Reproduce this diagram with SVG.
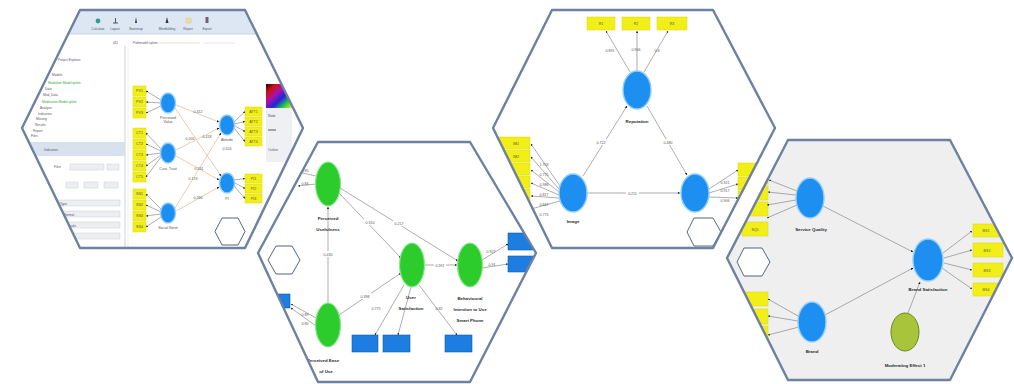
<svg xmlns="http://www.w3.org/2000/svg" width="1014" height="384" viewBox="0 0 1014 384">
<style>
.hexb{fill:none;stroke:#6e81a1;stroke-width:2.4;stroke-linejoin:round}
.small{fill:#fff;stroke:#55657f;stroke-width:1}
.ui{font-family:"Liberation Sans",Arial,sans-serif;font-size:3.2px;fill:#556}
.uig{font-family:"Liberation Sans",Arial,sans-serif;font-size:3.2px;fill:#2fa82f}
.lbl{font-family:"Liberation Sans",Arial,sans-serif;font-size:3.6px;fill:#555;text-anchor:middle}
.name{font-family:"Liberation Sans",Arial,sans-serif;font-size:4.4px;fill:#2a2a2a;text-anchor:middle;font-weight:bold}
.yb{fill:#f2ee18;stroke:#e0d800;stroke-width:0.5}
.bb{fill:#1d7de0;stroke:#0f5cb0;stroke-width:0.6}
.lv{fill:#1d8ff0;stroke:#8fcdfd;stroke-width:1.4}
.gv{fill:#2dcc2d;stroke:#8fe68f;stroke-width:1.2}
.path{stroke:#8a8a8a;stroke-width:0.7;fill:none}
.tan{stroke:#e6b48c;stroke-width:0.7;fill:none}
.ind{stroke:#777;stroke-width:0.6;fill:none}
.fld{fill:#eceef1;stroke:#c9ced6;stroke-width:0.5}
</style>
<defs>
<marker id="ah" viewBox="0 0 6 6" refX="5.5" refY="3" markerWidth="3.5" markerHeight="3.5" orient="auto">
<path d="M0,0 L6,3 L0,6 z" fill="#222"/>
</marker>
<linearGradient id="pal" x1="0" y1="0" x2="1" y2="1">
<stop offset="0" stop-color="#200"/><stop offset="0.2" stop-color="#c11"/><stop offset="0.4" stop-color="#a1a"/>
<stop offset="0.6" stop-color="#22d"/><stop offset="0.8" stop-color="#2c4"/><stop offset="1" stop-color="#ee2"/>
</linearGradient>
<clipPath id="c1"><polygon points="80,10 245,10 303,128 245,248 80,248 22,128"/></clipPath>
<clipPath id="c2"><polygon points="318,142 470,142 536,253 470,382 318,382 258,253"/></clipPath>
<clipPath id="c3"><polygon points="552,10 713,10 775,128 713,248 552,248 493,128"/></clipPath>
<clipPath id="c4"><polygon points="788,140 950,140 1012,258 950,380 788,380 727,258"/></clipPath>
</defs>
<rect width="1014" height="384" fill="#fff"/>

<!-- Panel 1: modelling software window -->
<g id="panel1">
<g clip-path="url(#c1)">
<rect x="20" y="8" width="290" height="244" fill="#fff"/>
<rect x="20" y="8" width="290" height="26" fill="#dde7f3"/>
<line x1="20" y1="34" x2="310" y2="34" stroke="#c2cedd" stroke-width="0.8"/>
<circle cx="98" cy="21" r="2.4" fill="#2e9e8e"/>
<path d="M113,23 h5 M115.5,18 v5" stroke="#445" stroke-width="0.9"/>
<path d="M136,17 l1,6 h-2 z" fill="#334"/>
<path d="M167,17 l1.5,6 h-3 z" fill="#334"/>
<rect x="186" y="18" width="5" height="5" fill="#f1dca0" stroke="#d9bd70" stroke-width="0.4"/>
<rect x="205.5" y="17" width="3" height="6" fill="#667"/>
<text class="ui" x="98" y="30" text-anchor="middle" font-size="2.4">Calculate</text>
<text class="ui" x="115" y="30" text-anchor="middle" font-size="2.4">Layout</text>
<text class="ui" x="136" y="30" text-anchor="middle" font-size="2.4">Bootstrap</text>
<text class="ui" x="167" y="30" text-anchor="middle" font-size="2.4">Blindfolding</text>
<text class="ui" x="188" y="30" text-anchor="middle" font-size="2.4">Report</text>
<text class="ui" x="207" y="30" text-anchor="middle" font-size="2.4">Export</text>
<text class="ui" x="113" y="44" font-size="3.6">411</text>
<text class="ui" x="133" y="44" font-size="2.8">Pathmodel.splsm</text>
<line x1="158" y1="43" x2="200" y2="43" stroke="#dfe9c8" stroke-width="1"/>
<line x1="203" y1="43" x2="235" y2="43" stroke="#e3e6ea" stroke-width="1"/>
<line x1="125" y1="46" x2="125" y2="250" stroke="#bfc7d3" stroke-width="0.8"/>
<line x1="128" y1="46" x2="128" y2="250" stroke="#e4e8ee" stroke-width="0.6"/>
<text class="ui" x="58" y="61" font-size="3.4">Project Explorer</text>
<text class="ui" x="52" y="76">Models</text>
<text class="uig" x="48" y="84">Mediation Model.splsm</text>
<text class="ui" x="45" y="90">Data</text>
<text class="ui" x="43" y="96">Mod_Data</text>
<text class="uig" x="42" y="103">Moderation Model.splsm</text>
<text class="ui" x="40" y="109">Analysis</text>
<text class="ui" x="38" y="115">Indicators</text>
<text class="ui" x="36" y="120">Missing</text>
<text class="ui" x="35" y="126">Results</text>
<text class="ui" x="33" y="132">Report</text>
<text class="ui" x="31" y="137">Files</text>
<rect x="30" y="142" width="95" height="14" fill="#d8e1ee"/>
<text class="ui" x="44" y="150.5">Indicators</text>
<text class="ui" x="54" y="168">Filter</text>
<rect x="70" y="164" width="34" height="6" class="fld"/>
<rect x="107" y="164" width="12" height="6" class="fld"/>
<rect x="66" y="182" width="12" height="6" class="fld"/>
<rect x="84" y="182" width="14" height="6" class="fld"/>
<rect x="104" y="182" width="14" height="6" class="fld"/>
<rect x="58" y="200" width="62" height="6" class="fld"/>
<text class="ui" x="60" y="204.5">Type</text>
<rect x="62" y="211" width="58" height="6" class="fld"/>
<text class="ui" x="64" y="215.5">Format</text>
<rect x="66" y="222" width="54" height="6" class="fld"/>
<text class="ui" x="68" y="226.5">Scale</text>
<rect x="70" y="233" width="50" height="6" class="fld"/>
<rect x="266" y="84" width="26" height="24" fill="url(#pal)"/>
<rect x="266" y="108" width="26" height="54" fill="#eef0f3"/>
<text class="ui" x="268" y="117">Node</text>
<line x1="268" y1="130" x2="276" y2="130" stroke="#333" stroke-width="0.8"/>
<text class="ui" x="268" y="151">Outline</text>

<!-- path model on the canvas -->
<g>
<rect class="yb" x="133" y="86" width="13" height="10"/><rect class="yb" x="133" y="97" width="13" height="10"/><rect class="yb" x="133" y="108" width="13" height="10"/>
<rect class="yb" x="133" y="128" width="13" height="10"/><rect class="yb" x="133" y="139" width="13" height="10"/><rect class="yb" x="133" y="150" width="13" height="10"/><rect class="yb" x="133" y="161" width="13" height="10"/><rect class="yb" x="133" y="172" width="13" height="10"/>
<rect class="yb" x="133" y="189" width="13" height="10"/><rect class="yb" x="133" y="200" width="13" height="10"/><rect class="yb" x="133" y="211" width="13" height="10"/><rect class="yb" x="133" y="222" width="13" height="10"/>
<rect class="yb" x="245" y="107" width="17" height="9"/><rect class="yb" x="245" y="117" width="17" height="9"/><rect class="yb" x="245" y="127" width="17" height="9"/><rect class="yb" x="245" y="137" width="17" height="9"/>
<rect class="yb" x="245" y="174" width="17" height="9"/><rect class="yb" x="245" y="184" width="17" height="9"/><rect class="yb" x="245" y="194" width="17" height="9"/>
<g class="lbl" font-size="2.6px" fill="#333">
<text x="139.5" y="92">PV1</text><text x="139.5" y="103">PV2</text><text x="139.5" y="114">PV3</text>
<text x="139.5" y="134">CT1</text><text x="139.5" y="145">CT2</text><text x="139.5" y="156">CT3</text><text x="139.5" y="167">CT4</text><text x="139.5" y="178">CT5</text>
<text x="139.5" y="195">SN1</text><text x="139.5" y="206">SN2</text><text x="139.5" y="217">SN3</text><text x="139.5" y="228">SN4</text>
<text x="253.5" y="112.5">ATT1</text><text x="253.5" y="122.5">ATT2</text><text x="253.5" y="132.5">ATT3</text><text x="253.5" y="142.5">ATT4</text>
<text x="253.5" y="179.5">PI1</text><text x="253.5" y="189.5">PI2</text><text x="253.5" y="199.5">PI3</text>
</g>
<g class="ind" marker-end="url(#ah)">
<path d="M161,100 L146,91"/><path d="M161,103 L146,102"/><path d="M161,106 L146,113"/>
<path d="M161,149 L146,133"/><path d="M161,151 L146,144"/><path d="M161,153 L146,155"/><path d="M161,155 L146,166"/><path d="M161,157 L146,177"/>
<path d="M161,209 L146,194"/><path d="M161,212 L146,205"/><path d="M161,214 L146,216"/><path d="M161,217 L146,227"/>
<path d="M234,122 L245,111.5"/><path d="M234,124 L245,121.5"/><path d="M235,126 L245,131.5"/><path d="M234,128 L245,141.5"/>
<path d="M234,180 L245,178.5"/><path d="M235,183 L245,188.5"/><path d="M234,186 L245,198.5"/>
</g>
<g class="tan" marker-end="url(#ah)">
<path d="M176,105 L219,122"/><path d="M175,108 L221,176"/><path d="M176,150 L219,128"/><path d="M176,156 L219,180"/><path d="M175,208 L221,133"/><path d="M176,211 L219,187"/>
</g>
<g class="lbl" font-size="2.6px">
<text x="198" y="113">0.312</text><text x="190" y="140">0.205</text><text x="207" y="138">0.418</text><text x="199" y="170">0.241</text><text x="193" y="180">0.174</text><text x="198" y="199">0.266</text>
</g>
<ellipse class="lv" cx="168" cy="103" rx="7.5" ry="10"/>
<ellipse class="lv" cx="168" cy="153" rx="7.5" ry="10"/>
<ellipse class="lv" cx="168" cy="213" rx="7.5" ry="10"/>
<ellipse class="lv" cx="227" cy="125" rx="7.5" ry="10"/>
<ellipse class="lv" cx="227" cy="183" rx="7.5" ry="10"/>
<g class="lbl" font-size="2.6px">
<text x="168" y="119">Perceived</text><text x="168" y="122.5">Value</text>
<text x="168" y="170">Cust. Trust</text>
<text x="168" y="229">Social Norm</text>
<text x="227" y="141">Attitude</text><text x="227" y="150">0.524</text>
<text x="227" y="200">PI</text>
</g>
</g>
<polygon class="small" points="222,218 238,218 245,231.5 238,245 222,245 215,231.5"/>
</g>
<polygon class="hexb" points="80,10 245,10 303,128 245,248 80,248 22,128"/>
</g>

<!-- Panel 3: reputation model -->
<g id="panel3">
<g clip-path="url(#c3)">
<polygon points="552,10 713,10 775,128 713,248 552,248 493,128" fill="#fff"/>
<rect class="yb" x="587" y="17" width="28" height="13"/><rect class="yb" x="622" y="17" width="28" height="13"/><rect class="yb" x="657" y="17" width="30" height="13"/>
<g class="lbl" fill="#333"><text x="601" y="25">R1</text><text x="636" y="25">R2</text><text x="672" y="25">R3</text></g>
<rect class="yb" x="498" y="137" width="32" height="12"/><rect class="yb" x="498" y="150" width="32" height="12"/><rect class="yb" x="498" y="163" width="32" height="12"/>
<rect class="yb" x="498" y="176" width="32" height="12"/><rect class="yb" x="498" y="189" width="32" height="12"/><rect class="yb" x="498" y="202" width="32" height="12"/>
<g class="lbl" fill="#333"><text x="516" y="144.5">IM1</text><text x="516" y="157.5">IM2</text></g>
<rect class="yb" x="738" y="163" width="30" height="13"/><rect class="yb" x="738" y="177" width="30" height="13"/><rect class="yb" x="738" y="191" width="30" height="13"/>
<g class="ind" marker-end="url(#ah)">
<path d="M630,72 L606,31"/><path d="M637,71 L637,31"/><path d="M644,72 L668,31"/>
<path d="M560,186 L531,144"/><path d="M559,189 L531,157"/><path d="M559,192 L531,170"/><path d="M559,195 L531,183"/><path d="M559,198 L531,196"/><path d="M560,201 L531,209"/>
<path d="M709,189 L738,170"/><path d="M709,193 L738,184"/><path d="M709,197 L738,198"/>
</g>
<g class="path" marker-end="url(#ah)">
<path d="M583,176 L627,106"/><path d="M647,106 L687,175"/><path d="M587,193 L680,193"/>
</g>
<g class="lbl">
<text x="610" y="52">0.891</text><text x="636" y="51">0.906</text><text x="657" y="52">0.8</text>
<text x="544" y="166">1.703</text><text x="544" y="176">0.775</text><text x="544" y="186">0.986</text><text x="544" y="196">0.817</text><text x="544" y="206">0.847</text><text x="544" y="216">0.775</text>
<text x="725" y="184">0.921</text><text x="725" y="192">0.917</text><text x="725" y="202">0.906</text>
</g>
<g font-family="Liberation Sans,Arial,sans-serif" font-size="3.6" fill="#555" text-anchor="middle">
<rect x="595" y="139" width="12" height="6" fill="#fff"/><text x="601" y="143.5">0.722</text>
<rect x="662" y="139" width="12" height="6" fill="#fff"/><text x="668" y="143.5">0.480</text>
<rect x="626" y="190" width="13" height="6" fill="#fff"/><text x="632.5" y="194.5">0.211</text>
</g>
<ellipse class="lv" cx="637" cy="90" rx="14" ry="19"/>
<ellipse class="lv" cx="573" cy="193" rx="14" ry="19"/>
<ellipse class="lv" cx="695" cy="193" rx="14" ry="19"/>
<text class="name" x="637" y="123">Reputation</text>
<text class="name" x="573" y="223">Image</text>
<polygon class="small" points="694,218 713,218 721,232 713,246 694,246 687,232"/>
</g>
<polygon class="hexb" points="552,10 713,10 775,128 713,248 552,248 493,128"/>
</g>

<!-- Panel 4: moderation model -->
<g id="panel4">
<g clip-path="url(#c4)">
<polygon points="788,140 950,140 1012,258 950,380 788,380 727,258" fill="#efefef"/>
<rect class="yb" x="742" y="170" width="26" height="14"/><rect class="yb" x="742" y="186" width="26" height="14"/><rect class="yb" x="742" y="202" width="26" height="14"/><rect class="yb" x="742" y="222" width="26" height="14"/>
<text class="lbl" x="755" y="231" fill="#333">SQ5</text>
<rect class="yb" x="742" y="292" width="26" height="14"/><rect class="yb" x="742" y="309" width="26" height="15"/><rect class="yb" x="742" y="326" width="26" height="14"/>
<rect class="yb" x="973" y="224" width="30" height="13"/><rect class="yb" x="973" y="243" width="30" height="14"/><rect class="yb" x="973" y="263" width="30" height="14"/><rect class="yb" x="973" y="283" width="30" height="13"/>
<g class="lbl" fill="#333"><text x="986" y="232">BS1</text><text x="987" y="251.5">BS2</text><text x="987" y="271.5">BS3</text><text x="986" y="291">BS4</text></g>
<g class="ind" marker-end="url(#ah)">
<path d="M797,191 L769,180"/><path d="M796,195 L768,192"/><path d="M796,200 L767,205"/><path d="M797,205 L767,218"/>
<path d="M798,316 L768,299"/><path d="M798,321 L768,316"/><path d="M799,327 L768,335"/>
<path d="M943,253 L972,231"/><path d="M944,258 L972,250"/><path d="M944,263 L972,270"/><path d="M942,268 L972,289"/>
</g>
<g class="path" marker-end="url(#ah)">
<path d="M823,206 L913,252"/><path d="M825,315 L913,268"/><path d="M908,313 L920,282"/>
</g>
<ellipse class="lv" cx="810" cy="198" rx="14" ry="20"/>
<ellipse class="lv" cx="812" cy="322" rx="14" ry="20"/>
<ellipse class="lv" cx="928" cy="260" rx="15" ry="21"/>
<ellipse cx="905" cy="332" rx="14" ry="19" fill="#a8c43a" stroke="#6b8a1c" stroke-width="1"/>
<text class="name" x="811" y="231">Service Quality</text>
<text class="name" x="812" y="353">Brand</text>
<text class="name" x="928" y="291">Brand Satisfaction</text>
<text class="name" x="905" y="367" font-weight="normal">Moderating Effect 1</text>
<polygon class="small" points="744,248 762,248 770,262 762,276 744,276 737,262"/>
</g>
<polygon class="hexb" points="788,140 950,140 1012,258 950,380 788,380 727,258"/>
</g>

<!-- Panel 2: technology acceptance model -->
<g id="panel2">
<g clip-path="url(#c2)">
<polygon points="318,142 470,142 536,253 470,382 318,382 258,253" fill="#fff"/>
<path class="bb" d="M508,233 h30 v17 h-30 z"/><path class="bb" d="M508,256 h30 v16 h-30 z"/>
<rect class="bb" x="352" y="335" width="26" height="17"/><rect class="bb" x="383" y="335" width="27" height="17"/><rect class="bb" x="445" y="335" width="27" height="17"/>
<rect class="bb" x="272" y="294" width="18" height="14"/>
<g class="ind" marker-end="url(#ah)">
<path d="M316,176 L298,172"/><path d="M316,184 L298,186"/>
<path d="M316,318 L291,304"/><path d="M316,326 L291,308"/>
<path d="M482,260 L508,244"/><path d="M482,268 L508,264"/>
<path d="M404,285 L375,335"/><path d="M411,287 L398,335"/><path d="M419,285 L457,335"/>
</g>
<g class="path" marker-end="url(#ah)">
<path d="M339,193 L401,258"/><path d="M340,188 L458,261"/><path d="M328,303 L328,207"/><path d="M339,315 L401,273"/><path d="M424,265 L457,265"/>
</g>
<g class="lbl">
<text x="305" y="172">0.85</text><text x="305" y="185">0.84</text>
<text x="305" y="316">0.89</text><text x="305" y="325">0.80</text>
<text x="491" y="253">0.927</text><text x="492" y="266">0.91</text>
<text x="376" y="310">0.775</text><text x="439" y="310">0.82</text>
</g>
<g font-family="Liberation Sans,Arial,sans-serif" font-size="3.6" fill="#555" text-anchor="middle">
<rect x="364" y="219" width="12" height="6" fill="#fff"/><text x="370" y="223.5">0.310</text>
<rect x="393" y="220" width="12" height="6" fill="#fff"/><text x="399" y="224.5">0.217</text>
<rect x="322" y="251" width="12" height="6" fill="#fff"/><text x="328" y="255.5">0.430</text>
<rect x="359" y="293" width="12" height="6" fill="#fff"/><text x="365" y="297.5">0.398</text>
<rect x="434" y="262" width="12" height="6" fill="#fff"/><text x="440" y="266.5">0.591</text>
</g>
<ellipse class="gv" cx="328" cy="184" rx="12.5" ry="22"/>
<ellipse class="gv" cx="328" cy="325" rx="12.5" ry="22"/>
<ellipse class="gv" cx="412" cy="265" rx="12.5" ry="22"/>
<ellipse class="gv" cx="470" cy="265" rx="12.5" ry="22"/>
<g class="name">
<text x="328" y="220">Perceived</text><text x="328" y="231">Usefulness</text>
<text x="323" y="362">Perceived Ease</text><text x="326" y="373">of Use</text>
<text x="411" y="299">User</text><text x="411" y="310">Satisfaction</text>
<text x="470" y="300">Behavioural</text><text x="470" y="311">Intention to Use</text><text x="470" y="322">Smart Phone</text>
</g>
<polygon class="small" points="276,246 292,246 300,260 292,274 276,274 268,260"/>
</g>
<polygon class="hexb" points="318,142 470,142 536,253 470,382 318,382 258,253"/>
</g>
</svg>
